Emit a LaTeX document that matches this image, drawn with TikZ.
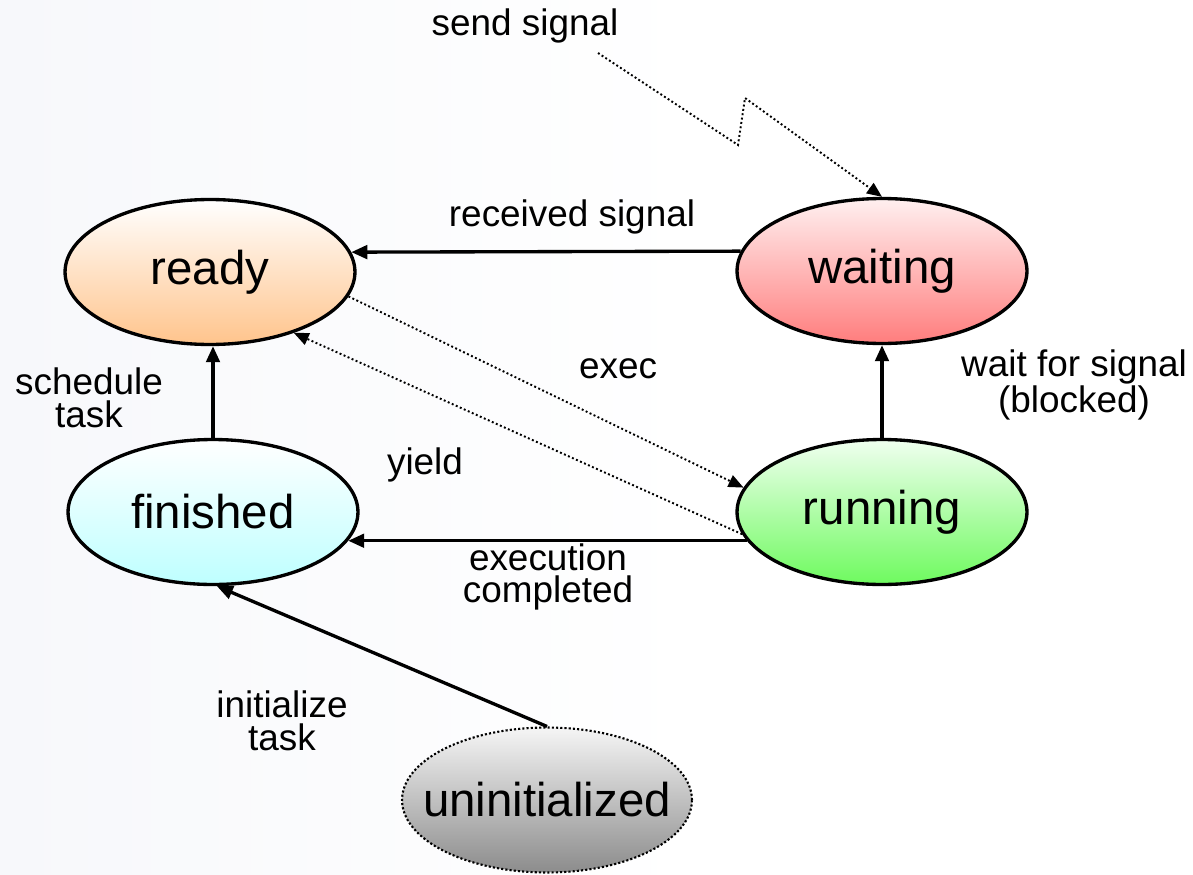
\documentclass[tikz,border=0pt]{standalone}
\usepackage{fontspec}
\setmainfont{Liberation Sans}
\usepackage{tikz}
\usetikzlibrary{shapes.geometric, arrows.meta, positioning}
\definecolor{readycolor}{RGB}{255,196,140}
\definecolor{waitcolor}{RGB}{255,125,125}
\definecolor{finishcolor}{RGB}{190,255,255}
\definecolor{runcolor}{RGB}{110,250,95}
\definecolor{initcolor}{RGB}{140,140,140}
\definecolor{bgcolor}{RGB}{247,248,251}

\begin{document}
\begin{tikzpicture}[
    x=0.02cm, y=-0.02cm,
    state/.style={draw, line width=1.9pt, ellipse, minimum width=5.8cm, minimum height=2.9cm, inner sep=0pt, font=\fontsize{27}{32}\selectfont},
    initstate/.style={state, inner xsep=-0.5cm, line width=1.2pt, dash pattern=on 1.2pt off 1.2pt},
    lbl/.style={font=\fontsize{21}{18.5}\selectfont, align=center, inner sep=0pt},
    trans/.style={-{Triangle[length=3.2mm, width=2.7mm]}, line width=1.9pt},
    sigtrans/.style={-{Triangle[length=3mm, width=2.5mm]}, line width=1.1pt, dash pattern=on 1.1pt off 1.4pt}
]
    \useasboundingbox (0,0) rectangle (1193,875);
    \shade[left color=bgcolor, right color=white] (0,0) rectangle (700,875);

    % States
    \node[state, top color=white, bottom color=readycolor] (ready) at (210,272) {ready};
    \node[state, top color=red!6, bottom color=waitcolor] (waiting) at (882,271) {waiting};
    \node[state, top color=white, bottom color=finishcolor] (finished) at (213,512) {finished};
    \node[state, top color=green!6, bottom color=runcolor] (running) at (882,512) {running};
    \node[initstate, top color=gray!8, bottom color=initcolor] (uninit) at (547,800) {uninitialized};

    % Labels
    \node[lbl] (lblrecv) at (572,217) {received signal};
    \node[lbl] (lblexec) at (618,369) {exec};
    \node[lbl] (lblyield) at (425,465) {yield};
    \node[lbl] (lblsched) at (89,398) {schedule\\task};
    \node[lbl] (lblwait) at (1074,385) {wait for signal\\(blocked)};
    \node[lbl] (lbldone) at (548,577) {execution\\completed};
    \node[lbl] (lblinit) at (282,721) {initialize\\task};
    \node[lbl] (lblsend) at (525,26) {send signal};

    % Zigzag points
    \coordinate (sigstart) at (598,53);
    \coordinate (zigA) at (738,145);
    \coordinate (zigB) at (745,98);

    % Transitions
    \draw[trans] (waiting.172) -- (ready.8);
    \draw[trans] (finished.north) -- (finished.north |- ready.south);
    \draw[trans] (running.north) -- (waiting.south);
    \draw[trans] (running.192) -- (finished.-12);
    \draw[trans] (uninit.north) -- (finished.-87);

    % Dotted transitions
    \draw[sigtrans] (ready.-10) -- (running.170);
    \draw[sigtrans] (running.189) -- (ready.-36);
    \draw[sigtrans] (sigstart) -- (zigA) -- (zigB) -- (waiting.north);
\end{tikzpicture}
\end{document}
